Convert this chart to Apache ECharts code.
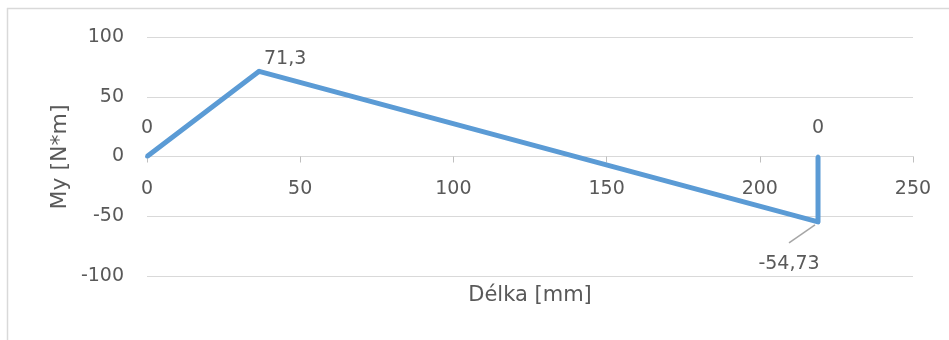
<!DOCTYPE html>
<html>
<head>
<meta charset="utf-8">
<script src="https://cdn.jsdelivr.net/npm/echarts@6/dist/echarts.min.js"></script>
<style>
html,body{margin:0;padding:0;background:#fff;}
#c{width:949px;height:340px;}
</style>
</head>
<body>
<div id="c"></div>
<script>
// Data
const xValues = [0, 36.6, 219, 219];
const myValues = [0, 71.3, -54.73, 0];
const xTitle = 'Délka [mm]';
const yTitle = 'My [N*m]';

const FONT = 'DejaVu Sans';
const TXT = '#595959';

const fmt = v => String(v).replace('.', ',');

const labelCfg = [
  { position: 'top', distance: 19 },
  { position: 'top', distance: 4 },
  { position: 'bottom', distance: 4 },
  { position: 'top', distance: 19 }
];
const labelShift = [[0, 2], [26, 3], [-29, 27], [0, 2]];
const leaderIndex = 2;

const data = xValues.map((x, i) => ({
  value: [x, myValues[i]],
  label: Object.assign({}, labelCfg[i])
}));

const chart = echarts.init(document.getElementById('c'), null, { renderer: 'canvas' });
chart.setOption({
  animation: false,
  backgroundColor: '#fff',
  textStyle: { fontFamily: FONT },
  grid: { left: 147, right: 36, top: 37, bottom: 64, containLabel: false },
  xAxis: {
    type: 'value', min: 0, max: 250, interval: 50,
    position: 'bottom', offset: -119.5,
    axisLine: { show: true, onZero: false, lineStyle: { color: '#d9d9d9', width: 1 } },
    axisTick: { show: true, length: 6, lineStyle: { color: '#bfbfbf' } },
    axisLabel: { color: TXT, fontSize: 19, fontFamily: FONT, margin: 23 },
    splitLine: { show: false }
  },
  yAxis: {
    type: 'value', min: -100, max: 100, interval: 50,
    axisLine: { show: false },
    axisTick: { show: false },
    axisLabel: { color: TXT, fontSize: 19, fontFamily: FONT, margin: 23 },
    splitLine: { show: true, lineStyle: { color: '#d9d9d9', width: 1 } }
  },
  series: [{
    type: 'line',
    data: data,
    symbol: 'circle',
    symbolSize: 4,
    showSymbol: true,
    itemStyle: { color: '#5b9bd5' },
    lineStyle: { color: '#5b9bd5', width: 5, join: 'round' },
    label: {
      show: true, color: TXT, fontSize: 19, fontFamily: FONT,
      formatter: p => fmt(p.value[1])
    },
    labelLayout: function (p) {
      const s = labelShift[p.dataIndex];
      return { dx: s[0], dy: s[1] };
    }
  }],
  graphic: [
    { id: 'bt', type: 'line', shape: { x1: 7, y1: 8.5, x2: 949, y2: 8.5 }, style: { stroke: '#d9d9d9', lineWidth: 1.5 } },
    { id: 'bl', type: 'line', shape: { x1: 7.5, y1: 8, x2: 7.5, y2: 340 }, style: { stroke: '#d9d9d9', lineWidth: 1.5 } },
    { id: 'xt', type: 'text', x: 530, y: 296, style: { text: xTitle, fill: TXT, font: '21px "DejaVu Sans"', textAlign: 'center', textVerticalAlign: 'middle' } },
    { id: 'yt', type: 'text', x: 60, y: 157, rotation: Math.PI / 2, style: { text: yTitle, fill: TXT, font: '22px "DejaVu Sans"', textAlign: 'center', textVerticalAlign: 'middle' } }
  ]
});

// leader line for the minimum label, anchored through the chart's scale
const p = chart.convertToPixel({ gridIndex: 0 }, [xValues[leaderIndex], myValues[leaderIndex]]);
chart.setOption({
  graphic: [
    { id: 'leader', type: 'line', z: 10,
      shape: { x1: p[0] - 3, y1: p[1] + 3, x2: p[0] - 29, y2: p[1] + 21 },
      style: { stroke: '#a6a6a6', lineWidth: 1.5 } }
  ]
});
</script>
</body>
</html>
